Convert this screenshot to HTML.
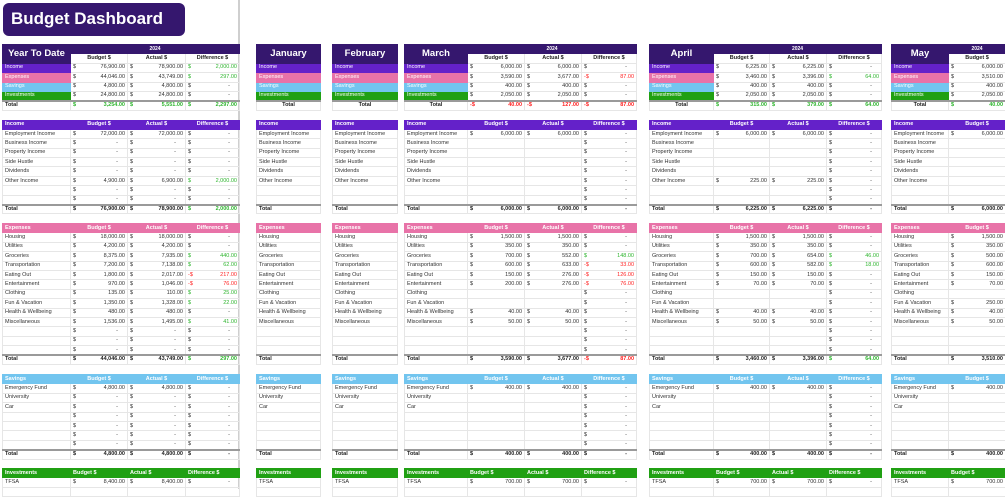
<!DOCTYPE html>
<html><head><meta charset="utf-8">
<style>
body{margin:0;width:1005px;height:489px;overflow:hidden;position:relative;background:#fff;font-family:"Liberation Sans",sans-serif;}
.title{position:absolute;left:3px;top:3px;width:182px;height:33px;background:#35176e;border-radius:6px;color:#fff;font-weight:bold;font-size:17px;line-height:31px;padding-left:8px;box-sizing:border-box}
.vl{position:absolute;left:238px;top:0;width:1.5px;height:489px;background:#cfcfcf}
table{position:absolute;border-collapse:collapse;table-layout:fixed;font-size:5.5px;color:#333}
tr{height:9.4px}
td{padding:0 2px;border:1px solid #e6e6e6;white-space:nowrap;overflow:hidden;line-height:7px;text-align:right}
td:first-child{text-align:left}
em{float:left;font-style:normal}
td.d{padding-right:9px}
.g{color:#2fb52f}.r{color:#f22}
tr.h td{color:#fff;font-weight:bold;text-align:center}
tr.h td:first-child{text-align:left}
tr.hi td{background:#6421c9;border-color:#6421c9}tr.he td{background:#e873a8;border-color:#e873a8}tr.hs td{background:#72c5ef;border-color:#72c5ef}tr.hv td{background:#20a013;border-color:#20a013;text-align:left}
td.ttl{background:#35176e;color:#fff;font-size:9.5px;font-weight:bold;text-align:center;border-color:#35176e}
td.yr{background:#35176e;color:#fff;font-weight:bold;text-align:center;font-size:5px;border-color:#35176e}
tr.s2 td{font-weight:bold;text-align:center;color:#222}
td.li{background:#6421c9;color:#fff;border-color:#6421c9}td.le{background:#e873a8;color:#fff;border-color:#e873a8}td.ls{background:#72c5ef;color:#fff;border-color:#72c5ef}td.lv{background:#20a013;color:#fff;border-color:#20a013}
tr.t td{font-weight:bold;border-top:2px solid #9a9a9a;color:#222}
tr.t td.c{text-align:center}
tr.t td.g{color:#2fb52f}tr.t td.r{color:#f22}
</style></head><body>
<div class="title">Budget Dashboard</div>
<div class="vl"></div>

<table style="left:2px;top:44px;width:237px"><colgroup><col style="width:68px"><col style="width:57px"><col style="width:58px"><col style="width:54px"></colgroup>
<tr><td rowspan="2" class="ttl">Year To Date</td><td colspan="3" class="yr">2024</td></tr>
<tr class="s2"><td>Budget $</td><td>Actual $</td><td>Difference $</td></tr>
<tr><td class="li">Income</td><td><em>$</em>76,900.00</td><td><em>$</em>78,900.00</td><td class="g"><em>$</em>2,000.00</td></tr>
<tr><td class="le">Expenses</td><td><em>$</em>44,046.00</td><td><em>$</em>43,749.00</td><td class="g"><em>$</em>297.00</td></tr>
<tr><td class="ls">Savings</td><td><em>$</em>4,800.00</td><td><em>$</em>4,800.00</td><td class="d"><em>$</em>-</td></tr>
<tr><td class="lv">Investments</td><td><em>$</em>24,800.00</td><td><em>$</em>24,800.00</td><td class="d"><em>$</em>-</td></tr>
<tr class="t"><td>Total</td><td class="g"><em>$</em>3,254.00</td><td class="g"><em>$</em>5,551.00</td><td class="g"><em>$</em>2,297.00</td></tr>
</table>

<table style="left:256px;top:44px;width:64px"><colgroup><col style="width:64px"></colgroup>
<tr style="height:18.8px"><td class="ttl">January</td></tr>
<tr><td class="li">Income</td></tr><tr><td class="le">Expenses</td></tr><tr><td class="ls">Savings</td></tr><tr><td class="lv">Investments</td></tr>
<tr class="t"><td class="c">Total</td></tr></table>
<table style="left:332px;top:44px;width:65px"><colgroup><col style="width:65px"></colgroup>
<tr style="height:18.8px"><td class="ttl">February</td></tr>
<tr><td class="li">Income</td></tr><tr><td class="le">Expenses</td></tr><tr><td class="ls">Savings</td></tr><tr><td class="lv">Investments</td></tr>
<tr class="t"><td class="c">Total</td></tr></table>

<table style="left:404px;top:44px;width:232px"><colgroup><col style="width:63px"><col style="width:57px"><col style="width:57px"><col style="width:55px"></colgroup>
<tr><td rowspan="2" class="ttl">March</td><td colspan="3" class="yr">2024</td></tr>
<tr class="s2"><td>Budget $</td><td>Actual $</td><td>Difference $</td></tr>
<tr><td class="li">Income</td><td><em>$</em>6,000.00</td><td><em>$</em>6,000.00</td><td class="d"><em>$</em>-</td></tr>
<tr><td class="le">Expenses</td><td><em>$</em>3,590.00</td><td><em>$</em>3,677.00</td><td class="r"><em>-$</em>87.00</td></tr>
<tr><td class="ls">Savings</td><td><em>$</em>400.00</td><td><em>$</em>400.00</td><td class="d"><em>$</em>-</td></tr>
<tr><td class="lv">Investments</td><td><em>$</em>2,050.00</td><td><em>$</em>2,050.00</td><td class="d"><em>$</em>-</td></tr>
<tr class="t"><td class="c">Total</td><td class="r"><em>-$</em>40.00</td><td class="r"><em>-$</em>127.00</td><td class="r"><em>-$</em>87.00</td></tr>
</table>

<table style="left:649px;top:44px;width:232px"><colgroup><col style="width:64px"><col style="width:56px"><col style="width:57px"><col style="width:55px"></colgroup>
<tr><td rowspan="2" class="ttl">April</td><td colspan="3" class="yr">2024</td></tr>
<tr class="s2"><td>Budget $</td><td>Actual $</td><td>Difference $</td></tr>
<tr><td class="li">Income</td><td><em>$</em>6,225.00</td><td><em>$</em>6,225.00</td><td class="d"><em>$</em>-</td></tr>
<tr><td class="le">Expenses</td><td><em>$</em>3,460.00</td><td><em>$</em>3,396.00</td><td class="g"><em>$</em>64.00</td></tr>
<tr><td class="ls">Savings</td><td><em>$</em>400.00</td><td><em>$</em>400.00</td><td class="d"><em>$</em>-</td></tr>
<tr><td class="lv">Investments</td><td><em>$</em>2,050.00</td><td><em>$</em>2,050.00</td><td class="d"><em>$</em>-</td></tr>
<tr class="t"><td class="c">Total</td><td class="g"><em>$</em>315.00</td><td class="g"><em>$</em>379.00</td><td class="g"><em>$</em>64.00</td></tr>
</table>

<table style="left:891px;top:44px;width:114px"><colgroup><col style="width:57px"><col style="width:57px"></colgroup>
<tr><td rowspan="2" class="ttl">May</td><td class="yr">2024</td></tr>
<tr class="s2"><td>Budget $</td></tr>
<tr><td class="li">Income</td><td><em>$</em>6,000.00</td></tr>
<tr><td class="le">Expenses</td><td><em>$</em>3,510.00</td></tr>
<tr><td class="ls">Savings</td><td><em>$</em>400.00</td></tr>
<tr><td class="lv">Investments</td><td><em>$</em>2,050.00</td></tr>
<tr class="t"><td class="c">Total</td><td class="g"><em>$</em>40.00</td></tr>
</table>

<!-- INCOME -->
<table style="left:2px;top:119.5px;width:237px"><colgroup><col style="width:68px"><col style="width:57px"><col style="width:58px"><col style="width:54px"></colgroup>
<tr class="h hi"><td>Income</td><td>Budget $</td><td>Actual $</td><td>Difference $</td></tr>
<tr><td>Employment Income</td><td><em>$</em>72,000.00</td><td><em>$</em>72,000.00</td><td class="d"><em>$</em>-</td></tr>
<tr><td>Business Income</td><td class="d"><em>$</em>-</td><td class="d"><em>$</em>-</td><td class="d"><em>$</em>-</td></tr>
<tr><td>Property Income</td><td class="d"><em>$</em>-</td><td class="d"><em>$</em>-</td><td class="d"><em>$</em>-</td></tr>
<tr><td>Side Hustle</td><td class="d"><em>$</em>-</td><td class="d"><em>$</em>-</td><td class="d"><em>$</em>-</td></tr>
<tr><td>Dividends</td><td class="d"><em>$</em>-</td><td class="d"><em>$</em>-</td><td class="d"><em>$</em>-</td></tr>
<tr><td>Other Income</td><td><em>$</em>4,900.00</td><td><em>$</em>6,900.00</td><td class="g"><em>$</em>2,000.00</td></tr>
<tr><td></td><td class="d"><em>$</em>-</td><td class="d"><em>$</em>-</td><td class="d"><em>$</em>-</td></tr>
<tr><td></td><td class="d"><em>$</em>-</td><td class="d"><em>$</em>-</td><td class="d"><em>$</em>-</td></tr>
<tr class="t"><td>Total</td><td><em>$</em>76,900.00</td><td><em>$</em>78,900.00</td><td class="g"><em>$</em>2,000.00</td></tr>
</table>
<table style="left:256px;top:119.5px;width:64px"><colgroup><col style="width:64px"></colgroup>
<tr class="h hi"><td>Income</td></tr><tr><td>Employment Income</td></tr><tr><td>Business Income</td></tr><tr><td>Property Income</td></tr><tr><td>Side Hustle</td></tr><tr><td>Dividends</td></tr><tr><td>Other Income</td></tr><tr><td></td></tr><tr><td></td></tr><tr class="t"><td>Total</td></tr></table>
<table style="left:332px;top:119.5px;width:65px"><colgroup><col style="width:65px"></colgroup>
<tr class="h hi"><td>Income</td></tr><tr><td>Employment Income</td></tr><tr><td>Business Income</td></tr><tr><td>Property Income</td></tr><tr><td>Side Hustle</td></tr><tr><td>Dividends</td></tr><tr><td>Other Income</td></tr><tr><td></td></tr><tr><td></td></tr><tr class="t"><td>Total</td></tr></table>
<table style="left:404px;top:119.5px;width:232px"><colgroup><col style="width:63px"><col style="width:57px"><col style="width:57px"><col style="width:55px"></colgroup>
<tr class="h hi"><td>Income</td><td>Budget $</td><td>Actual $</td><td>Difference $</td></tr>
<tr><td>Employment Income</td><td><em>$</em>6,000.00</td><td><em>$</em>6,000.00</td><td class="d"><em>$</em>-</td></tr>
<tr><td>Business Income</td><td></td><td></td><td class="d"><em>$</em>-</td></tr>
<tr><td>Property Income</td><td></td><td></td><td class="d"><em>$</em>-</td></tr>
<tr><td>Side Hustle</td><td></td><td></td><td class="d"><em>$</em>-</td></tr>
<tr><td>Dividends</td><td></td><td></td><td class="d"><em>$</em>-</td></tr>
<tr><td>Other Income</td><td></td><td></td><td class="d"><em>$</em>-</td></tr>
<tr><td></td><td></td><td></td><td class="d"><em>$</em>-</td></tr>
<tr><td></td><td></td><td></td><td class="d"><em>$</em>-</td></tr>
<tr class="t"><td>Total</td><td><em>$</em>6,000.00</td><td><em>$</em>6,000.00</td><td class="d"><em>$</em>-</td></tr>
</table>
<table style="left:649px;top:119.5px;width:232px"><colgroup><col style="width:64px"><col style="width:56px"><col style="width:57px"><col style="width:55px"></colgroup>
<tr class="h hi"><td>Income</td><td>Budget $</td><td>Actual $</td><td>Difference $</td></tr>
<tr><td>Employment Income</td><td><em>$</em>6,000.00</td><td><em>$</em>6,000.00</td><td class="d"><em>$</em>-</td></tr>
<tr><td>Business Income</td><td></td><td></td><td class="d"><em>$</em>-</td></tr>
<tr><td>Property Income</td><td></td><td></td><td class="d"><em>$</em>-</td></tr>
<tr><td>Side Hustle</td><td></td><td></td><td class="d"><em>$</em>-</td></tr>
<tr><td>Dividends</td><td></td><td></td><td class="d"><em>$</em>-</td></tr>
<tr><td>Other Income</td><td><em>$</em>225.00</td><td><em>$</em>225.00</td><td class="d"><em>$</em>-</td></tr>
<tr><td></td><td></td><td></td><td class="d"><em>$</em>-</td></tr>
<tr><td></td><td></td><td></td><td class="d"><em>$</em>-</td></tr>
<tr class="t"><td>Total</td><td><em>$</em>6,225.00</td><td><em>$</em>6,225.00</td><td class="d"><em>$</em>-</td></tr>
</table>
<table style="left:891px;top:119.5px;width:114px"><colgroup><col style="width:57px"><col style="width:57px"></colgroup>
<tr class="h hi"><td>Income</td><td>Budget $</td></tr>
<tr><td>Employment Income</td><td><em>$</em>6,000.00</td></tr>
<tr><td>Business Income</td><td></td></tr><tr><td>Property Income</td><td></td></tr><tr><td>Side Hustle</td><td></td></tr><tr><td>Dividends</td><td></td></tr><tr><td>Other Income</td><td></td></tr><tr><td></td><td></td></tr><tr><td></td><td></td></tr>
<tr class="t"><td>Total</td><td><em>$</em>6,000.00</td></tr>
</table>

<!-- EXPENSES -->
<table style="left:2px;top:223px;width:237px"><colgroup><col style="width:68px"><col style="width:57px"><col style="width:58px"><col style="width:54px"></colgroup>
<tr class="h he"><td>Expenses</td><td>Budget $</td><td>Actual $</td><td>Difference $</td></tr>
<tr><td>Housing</td><td><em>$</em>18,000.00</td><td><em>$</em>18,000.00</td><td class="d"><em>$</em>-</td></tr>
<tr><td>Utilities</td><td><em>$</em>4,200.00</td><td><em>$</em>4,200.00</td><td class="d"><em>$</em>-</td></tr>
<tr><td>Groceries</td><td><em>$</em>8,375.00</td><td><em>$</em>7,935.00</td><td class="g"><em>$</em>440.00</td></tr>
<tr><td>Transportation</td><td><em>$</em>7,200.00</td><td><em>$</em>7,138.00</td><td class="g"><em>$</em>62.00</td></tr>
<tr><td>Eating Out</td><td><em>$</em>1,800.00</td><td><em>$</em>2,017.00</td><td class="r"><em>-$</em>217.00</td></tr>
<tr><td>Entertainment</td><td><em>$</em>970.00</td><td><em>$</em>1,046.00</td><td class="r"><em>-$</em>76.00</td></tr>
<tr><td>Clothing</td><td><em>$</em>135.00</td><td><em>$</em>110.00</td><td class="g"><em>$</em>25.00</td></tr>
<tr><td>Fun &amp; Vacation</td><td><em>$</em>1,350.00</td><td><em>$</em>1,328.00</td><td class="g"><em>$</em>22.00</td></tr>
<tr><td>Health &amp; Wellbeing</td><td><em>$</em>480.00</td><td><em>$</em>480.00</td><td class="d"><em>$</em>-</td></tr>
<tr><td>Miscellaneous</td><td><em>$</em>1,536.00</td><td><em>$</em>1,495.00</td><td class="g"><em>$</em>41.00</td></tr>
<tr><td></td><td class="d"><em>$</em>-</td><td class="d"><em>$</em>-</td><td class="d"><em>$</em>-</td></tr>
<tr><td></td><td class="d"><em>$</em>-</td><td class="d"><em>$</em>-</td><td class="d"><em>$</em>-</td></tr>
<tr><td></td><td class="d"><em>$</em>-</td><td class="d"><em>$</em>-</td><td class="d"><em>$</em>-</td></tr>
<tr class="t"><td>Total</td><td><em>$</em>44,046.00</td><td><em>$</em>43,749.00</td><td class="g"><em>$</em>297.00</td></tr>
</table>
<table style="left:256px;top:223px;width:64px"><colgroup><col style="width:64px"></colgroup>
<tr class="h he"><td>Expenses</td></tr><tr><td>Housing</td></tr><tr><td>Utilities</td></tr><tr><td>Groceries</td></tr><tr><td>Transportation</td></tr><tr><td>Eating Out</td></tr><tr><td>Entertainment</td></tr><tr><td>Clothing</td></tr><tr><td>Fun &amp; Vacation</td></tr><tr><td>Health &amp; Wellbeing</td></tr><tr><td>Miscellaneous</td></tr><tr><td></td></tr><tr><td></td></tr><tr><td></td></tr><tr class="t"><td>Total</td></tr></table>
<table style="left:332px;top:223px;width:65px"><colgroup><col style="width:65px"></colgroup>
<tr class="h he"><td>Expenses</td></tr><tr><td>Housing</td></tr><tr><td>Utilities</td></tr><tr><td>Groceries</td></tr><tr><td>Transportation</td></tr><tr><td>Eating Out</td></tr><tr><td>Entertainment</td></tr><tr><td>Clothing</td></tr><tr><td>Fun &amp; Vacation</td></tr><tr><td>Health &amp; Wellbeing</td></tr><tr><td>Miscellaneous</td></tr><tr><td></td></tr><tr><td></td></tr><tr><td></td></tr><tr class="t"><td>Total</td></tr></table>
<table style="left:404px;top:223px;width:232px"><colgroup><col style="width:63px"><col style="width:57px"><col style="width:57px"><col style="width:55px"></colgroup>
<tr class="h he"><td>Expenses</td><td>Budget $</td><td>Actual $</td><td>Difference $</td></tr>
<tr><td>Housing</td><td><em>$</em>1,500.00</td><td><em>$</em>1,500.00</td><td class="d"><em>$</em>-</td></tr>
<tr><td>Utilities</td><td><em>$</em>350.00</td><td><em>$</em>350.00</td><td class="d"><em>$</em>-</td></tr>
<tr><td>Groceries</td><td><em>$</em>700.00</td><td><em>$</em>552.00</td><td class="g"><em>$</em>148.00</td></tr>
<tr><td>Transportation</td><td><em>$</em>600.00</td><td><em>$</em>633.00</td><td class="r"><em>-$</em>33.00</td></tr>
<tr><td>Eating Out</td><td><em>$</em>150.00</td><td><em>$</em>276.00</td><td class="r"><em>-$</em>126.00</td></tr>
<tr><td>Entertainment</td><td><em>$</em>200.00</td><td><em>$</em>276.00</td><td class="r"><em>-$</em>76.00</td></tr>
<tr><td>Clothing</td><td></td><td></td><td class="d"><em>$</em>-</td></tr>
<tr><td>Fun &amp; Vacation</td><td></td><td></td><td class="d"><em>$</em>-</td></tr>
<tr><td>Health &amp; Wellbeing</td><td><em>$</em>40.00</td><td><em>$</em>40.00</td><td class="d"><em>$</em>-</td></tr>
<tr><td>Miscellaneous</td><td><em>$</em>50.00</td><td><em>$</em>50.00</td><td class="d"><em>$</em>-</td></tr>
<tr><td></td><td></td><td></td><td class="d"><em>$</em>-</td></tr>
<tr><td></td><td></td><td></td><td class="d"><em>$</em>-</td></tr>
<tr><td></td><td></td><td></td><td class="d"><em>$</em>-</td></tr>
<tr class="t"><td>Total</td><td><em>$</em>3,590.00</td><td><em>$</em>3,677.00</td><td class="r"><em>-$</em>87.00</td></tr>
</table>
<table style="left:649px;top:223px;width:232px"><colgroup><col style="width:64px"><col style="width:56px"><col style="width:57px"><col style="width:55px"></colgroup>
<tr class="h he"><td>Expenses</td><td>Budget $</td><td>Actual $</td><td>Difference $</td></tr>
<tr><td>Housing</td><td><em>$</em>1,500.00</td><td><em>$</em>1,500.00</td><td class="d"><em>$</em>-</td></tr>
<tr><td>Utilities</td><td><em>$</em>350.00</td><td><em>$</em>350.00</td><td class="d"><em>$</em>-</td></tr>
<tr><td>Groceries</td><td><em>$</em>700.00</td><td><em>$</em>654.00</td><td class="g"><em>$</em>46.00</td></tr>
<tr><td>Transportation</td><td><em>$</em>600.00</td><td><em>$</em>582.00</td><td class="g"><em>$</em>18.00</td></tr>
<tr><td>Eating Out</td><td><em>$</em>150.00</td><td><em>$</em>150.00</td><td class="d"><em>$</em>-</td></tr>
<tr><td>Entertainment</td><td><em>$</em>70.00</td><td><em>$</em>70.00</td><td class="d"><em>$</em>-</td></tr>
<tr><td>Clothing</td><td></td><td></td><td class="d"><em>$</em>-</td></tr>
<tr><td>Fun &amp; Vacation</td><td></td><td></td><td class="d"><em>$</em>-</td></tr>
<tr><td>Health &amp; Wellbeing</td><td><em>$</em>40.00</td><td><em>$</em>40.00</td><td class="d"><em>$</em>-</td></tr>
<tr><td>Miscellaneous</td><td><em>$</em>50.00</td><td><em>$</em>50.00</td><td class="d"><em>$</em>-</td></tr>
<tr><td></td><td></td><td></td><td class="d"><em>$</em>-</td></tr>
<tr><td></td><td></td><td></td><td class="d"><em>$</em>-</td></tr>
<tr><td></td><td></td><td></td><td class="d"><em>$</em>-</td></tr>
<tr class="t"><td>Total</td><td><em>$</em>3,460.00</td><td><em>$</em>3,396.00</td><td class="g"><em>$</em>64.00</td></tr>
</table>
<table style="left:891px;top:223px;width:114px"><colgroup><col style="width:57px"><col style="width:57px"></colgroup>
<tr class="h he"><td>Expenses</td><td>Budget $</td></tr>
<tr><td>Housing</td><td><em>$</em>1,500.00</td></tr>
<tr><td>Utilities</td><td><em>$</em>350.00</td></tr>
<tr><td>Groceries</td><td><em>$</em>500.00</td></tr>
<tr><td>Transportation</td><td><em>$</em>600.00</td></tr>
<tr><td>Eating Out</td><td><em>$</em>150.00</td></tr>
<tr><td>Entertainment</td><td><em>$</em>70.00</td></tr>
<tr><td>Clothing</td><td></td></tr>
<tr><td>Fun &amp; Vacation</td><td><em>$</em>250.00</td></tr>
<tr><td>Health &amp; Wellbeing</td><td><em>$</em>40.00</td></tr>
<tr><td>Miscellaneous</td><td><em>$</em>50.00</td></tr>
<tr><td></td><td></td></tr><tr><td></td><td></td></tr><tr><td></td><td></td></tr>
<tr class="t"><td>Total</td><td><em>$</em>3,510.00</td></tr>
</table>

<!-- SAVINGS -->
<table style="left:2px;top:374px;width:237px"><colgroup><col style="width:68px"><col style="width:57px"><col style="width:58px"><col style="width:54px"></colgroup>
<tr class="h hs"><td>Savings</td><td>Budget $</td><td>Actual $</td><td>Difference $</td></tr>
<tr><td>Emergency Fund</td><td><em>$</em>4,800.00</td><td><em>$</em>4,800.00</td><td class="d"><em>$</em>-</td></tr>
<tr><td>University</td><td class="d"><em>$</em>-</td><td class="d"><em>$</em>-</td><td class="d"><em>$</em>-</td></tr>
<tr><td>Car</td><td class="d"><em>$</em>-</td><td class="d"><em>$</em>-</td><td class="d"><em>$</em>-</td></tr>
<tr><td></td><td class="d"><em>$</em>-</td><td class="d"><em>$</em>-</td><td class="d"><em>$</em>-</td></tr>
<tr><td></td><td class="d"><em>$</em>-</td><td class="d"><em>$</em>-</td><td class="d"><em>$</em>-</td></tr>
<tr><td></td><td class="d"><em>$</em>-</td><td class="d"><em>$</em>-</td><td class="d"><em>$</em>-</td></tr>
<tr><td></td><td class="d"><em>$</em>-</td><td class="d"><em>$</em>-</td><td class="d"><em>$</em>-</td></tr>
<tr class="t"><td>Total</td><td><em>$</em>4,800.00</td><td><em>$</em>4,800.00</td><td class="d"><em>$</em>-</td></tr>
</table>
<table style="left:256px;top:374px;width:64px"><colgroup><col style="width:64px"></colgroup>
<tr class="h hs"><td>Savings</td></tr><tr><td>Emergency Fund</td></tr><tr><td>University</td></tr><tr><td>Car</td></tr><tr><td></td></tr><tr><td></td></tr><tr><td></td></tr><tr><td></td></tr><tr class="t"><td>Total</td></tr></table>
<table style="left:332px;top:374px;width:65px"><colgroup><col style="width:65px"></colgroup>
<tr class="h hs"><td>Savings</td></tr><tr><td>Emergency Fund</td></tr><tr><td>University</td></tr><tr><td>Car</td></tr><tr><td></td></tr><tr><td></td></tr><tr><td></td></tr><tr><td></td></tr><tr class="t"><td>Total</td></tr></table>
<table style="left:404px;top:374px;width:232px"><colgroup><col style="width:63px"><col style="width:57px"><col style="width:57px"><col style="width:55px"></colgroup>
<tr class="h hs"><td>Savings</td><td>Budget $</td><td>Actual $</td><td>Difference $</td></tr>
<tr><td>Emergency Fund</td><td><em>$</em>400.00</td><td><em>$</em>400.00</td><td class="d"><em>$</em>-</td></tr>
<tr><td>University</td><td></td><td></td><td class="d"><em>$</em>-</td></tr>
<tr><td>Car</td><td></td><td></td><td class="d"><em>$</em>-</td></tr>
<tr><td></td><td></td><td></td><td class="d"><em>$</em>-</td></tr>
<tr><td></td><td></td><td></td><td class="d"><em>$</em>-</td></tr>
<tr><td></td><td></td><td></td><td class="d"><em>$</em>-</td></tr>
<tr><td></td><td></td><td></td><td class="d"><em>$</em>-</td></tr>
<tr class="t"><td>Total</td><td><em>$</em>400.00</td><td><em>$</em>400.00</td><td class="d"><em>$</em>-</td></tr>
</table>
<table style="left:649px;top:374px;width:232px"><colgroup><col style="width:64px"><col style="width:56px"><col style="width:57px"><col style="width:55px"></colgroup>
<tr class="h hs"><td>Savings</td><td>Budget $</td><td>Actual $</td><td>Difference $</td></tr>
<tr><td>Emergency Fund</td><td><em>$</em>400.00</td><td><em>$</em>400.00</td><td class="d"><em>$</em>-</td></tr>
<tr><td>University</td><td></td><td></td><td class="d"><em>$</em>-</td></tr>
<tr><td>Car</td><td></td><td></td><td class="d"><em>$</em>-</td></tr>
<tr><td></td><td></td><td></td><td class="d"><em>$</em>-</td></tr>
<tr><td></td><td></td><td></td><td class="d"><em>$</em>-</td></tr>
<tr><td></td><td></td><td></td><td class="d"><em>$</em>-</td></tr>
<tr><td></td><td></td><td></td><td class="d"><em>$</em>-</td></tr>
<tr class="t"><td>Total</td><td><em>$</em>400.00</td><td><em>$</em>400.00</td><td class="d"><em>$</em>-</td></tr>
</table>
<table style="left:891px;top:374px;width:114px"><colgroup><col style="width:57px"><col style="width:57px"></colgroup>
<tr class="h hs"><td>Savings</td><td>Budget $</td></tr>
<tr><td>Emergency Fund</td><td><em>$</em>400.00</td></tr>
<tr><td>University</td><td></td></tr><tr><td>Car</td><td></td></tr><tr><td></td><td></td></tr><tr><td></td><td></td></tr><tr><td></td><td></td></tr><tr><td></td><td></td></tr>
<tr class="t"><td>Total</td><td><em>$</em>400.00</td></tr>
</table>

<!-- INVESTMENTS -->
<table style="left:2px;top:468px;width:237px"><colgroup><col style="width:68px"><col style="width:57px"><col style="width:58px"><col style="width:54px"></colgroup>
<tr class="h hv"><td>Investments</td><td>Budget $</td><td>Actual $</td><td>Difference $</td></tr>
<tr><td>TFSA</td><td><em>$</em>8,400.00</td><td><em>$</em>8,400.00</td><td class="d"><em>$</em>-</td></tr>
<tr><td></td><td></td><td></td><td></td></tr>
</table>
<table style="left:256px;top:468px;width:64px"><colgroup><col style="width:64px"></colgroup>
<tr class="h hv"><td>Investments</td></tr><tr><td>TFSA</td></tr><tr><td></td></tr></table>
<table style="left:332px;top:468px;width:65px"><colgroup><col style="width:65px"></colgroup>
<tr class="h hv"><td>Investments</td></tr><tr><td>TFSA</td></tr><tr><td></td></tr></table>
<table style="left:404px;top:468px;width:232px"><colgroup><col style="width:63px"><col style="width:57px"><col style="width:57px"><col style="width:55px"></colgroup>
<tr class="h hv"><td>Investments</td><td>Budget $</td><td>Actual $</td><td>Difference $</td></tr>
<tr><td>TFSA</td><td><em>$</em>700.00</td><td><em>$</em>700.00</td><td class="d"><em>$</em>-</td></tr>
<tr><td></td><td></td><td></td><td></td></tr>
</table>
<table style="left:649px;top:468px;width:232px"><colgroup><col style="width:64px"><col style="width:56px"><col style="width:57px"><col style="width:55px"></colgroup>
<tr class="h hv"><td>Investments</td><td>Budget $</td><td>Actual $</td><td>Difference $</td></tr>
<tr><td>TFSA</td><td><em>$</em>700.00</td><td><em>$</em>700.00</td><td class="d"><em>$</em>-</td></tr>
<tr><td></td><td></td><td></td><td></td></tr>
</table>
<table style="left:891px;top:468px;width:114px"><colgroup><col style="width:57px"><col style="width:57px"></colgroup>
<tr class="h hv"><td>Investments</td><td>Budget $</td></tr>
<tr><td>TFSA</td><td><em>$</em>700.00</td></tr>
<tr><td></td><td></td></tr>
</table>
</body></html>
